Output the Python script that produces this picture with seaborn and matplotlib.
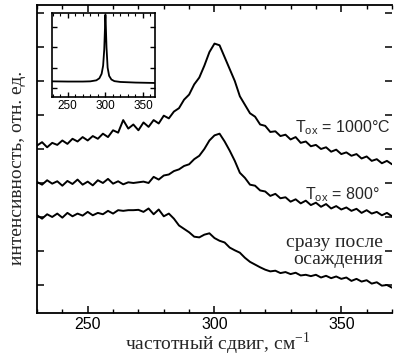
import numpy as np
import matplotlib
matplotlib.use("Agg")
import matplotlib.pyplot as plt
import seaborn as sns
from matplotlib.ticker import MultipleLocator

# wavenumber grid of the spectra, cm^-1
shift = np.arange(230, 372, 2)

# Raman spectra (offset, arb. units)
i_1000 = [5.10, 5.20, 5.05, 5.18, 5.12, 5.25, 5.15, 5.30, 5.22, 5.35,
          5.25, 5.38, 5.30, 5.45, 5.35, 5.55, 5.48, 5.85, 5.60, 5.72,
          5.55, 5.78, 5.65, 5.85, 5.75, 5.98, 5.90, 6.10, 6.20, 6.45,
          6.60, 6.90, 7.10, 7.45, 7.85, 8.10, 8.05, 7.70, 7.35, 7.00,
          6.55, 6.30, 6.05, 5.95, 5.72, 5.68, 5.50, 5.52, 5.38, 5.42,
          5.28, 5.35, 5.18, 5.22, 5.08, 5.12, 5.00, 5.05, 4.92, 4.98,
          4.85, 4.90, 4.80, 4.85, 4.72, 4.78, 4.65, 4.70, 4.58, 4.65,
          4.55]
i_800 = [4.03, 3.95, 4.08, 3.98, 4.05, 3.92, 4.06, 3.97, 4.10, 3.95,
         4.04, 3.93, 4.08, 4.00, 4.12, 3.98, 4.05, 3.96, 4.02, 4.00,
         4.02, 4.04, 4.00, 4.18, 4.10, 4.22, 4.25, 4.35, 4.40, 4.50,
         4.55, 4.70, 4.80, 5.00, 5.25, 5.40, 5.45, 5.22, 4.95, 4.65,
         4.30, 4.15, 3.95, 3.92, 3.78, 3.75, 3.62, 3.68, 3.55, 3.58,
         3.45, 3.52, 3.40, 3.48, 3.35, 3.42, 3.30, 3.38, 3.25, 3.32,
         3.22, 3.28, 3.18, 3.24, 3.12, 3.20, 3.10, 3.15, 3.05, 3.12,
         3.02]
i_dep = [3.05, 2.95, 3.08, 3.00, 3.10, 2.98, 3.12, 3.02, 3.10, 3.04,
         3.15, 3.05, 3.12, 3.08, 3.18, 3.10, 3.20, 3.18, 3.20, 3.20,
         3.21, 3.15, 3.25, 3.08, 3.22, 3.02, 3.10, 2.95, 2.75, 2.65,
         2.55, 2.42, 2.40, 2.48, 2.52, 2.38, 2.30, 2.25, 2.10, 2.02,
         1.95, 1.80, 1.68, 1.60, 1.52, 1.45, 1.40, 1.42, 1.35, 1.38,
         1.32, 1.36, 1.28, 1.30, 1.26, 1.30, 1.22, 1.27, 1.20, 1.25,
         1.18, 1.22, 1.12, 1.18, 1.10, 1.14, 1.04, 1.08, 0.98, 1.00,
         0.92]

# inset: crystalline reference spectrum
inset_shift = [229, 250, 270, 280, 288, 292, 295, 297, 298.5, 299.5, 300,
               300.5, 301.5, 303, 305, 308, 312, 320, 340, 366]
inset_int = [0.33, 0.32, 0.32, 0.33, 0.38, 0.48, 0.70, 1.10, 1.90, 3.00, 3.60,
             3.20, 2.00, 1.00, 0.60, 0.42, 0.34, 0.30, 0.27, 0.25]

sns.set_theme(style="ticks")
plt.rcParams["font.family"] = ["Liberation Sans", "DejaVu Sans"]
plt.rcParams["axes.linewidth"] = 1.3

fig = plt.figure(figsize=(3.96, 3.56), dpi=100)
ax = fig.add_axes([0.0934, 0.1208, 0.8965, 0.8652])

for vals in (i_1000, i_800, i_dep):
    sns.lineplot(x=shift, y=vals, ax=ax, color="black", lw=1.4,
                 estimator=None, sort=False)

ax.set_xlim(230, 370)
ax.set_ylim(0.176, 9.235)
ax.xaxis.set_major_locator(MultipleLocator(50))
ax.xaxis.set_minor_locator(MultipleLocator(10))
ax.set_yticks(range(1, 10))
ax.set_yticklabels([])
ax.tick_params(which="both", direction="in", top=True, right=True,
               colors="black")
ax.tick_params(which="major", length=5, width=1.1, labelsize=11.5, pad=3)
ax.tick_params(which="minor", length=3, width=1.0)
ax.spines["right"].set_visible(False)
for s in ("left", "bottom", "top"):
    ax.spines[s].set_color("black")

ax.set_xlabel(r"частотный сдвиг, см$^{\mathregular{-1}}$",
              family="Liberation Serif", fontsize=14)
ax.set_ylabel("интенсивность, отн. ед.", family="Liberation Serif",
              fontsize=14)
ax.xaxis.set_label_coords(0.51, -0.058)
ax.yaxis.set_label_coords(-0.03, 0.47)

ax.text(369.5, 5.62, r"$\mathregular{T_{ox}}$ = 1000°C", ha="right",
        va="center", fontsize=11.5)
ax.text(365, 3.65, r"$\mathregular{T_{ox}}$ = 800°", ha="right",
        va="center", fontsize=11.5)
ax.text(366.5, 2.0, "сразу после\nосаждения", ha="right", va="center",
        multialignment="right", family="Liberation Serif", fontsize=14,
        linespacing=1.0)

# inset
axi = fig.add_axes([0.1313, 0.7275, 0.2601, 0.236])
sns.lineplot(x=inset_shift, y=inset_int, ax=axi, color="black", lw=1.3,
             estimator=None, sort=False)
axi.set_xlim(229, 366)
axi.set_ylim(-0.44, 3.69)
axi.xaxis.set_major_locator(MultipleLocator(50))
axi.xaxis.set_minor_locator(MultipleLocator(10))
axi.set_yticks([0, 1, 2, 3])
axi.set_yticklabels([])
axi.tick_params(which="both", direction="in", top=True, right=True,
                colors="black")
axi.tick_params(which="major", length=3.5, width=1.0, labelsize=8.5, pad=2)
axi.tick_params(which="minor", length=2, width=0.8)
for s in axi.spines.values():
    s.set_color("black")
    s.set_linewidth(1.2)

fig.savefig("out.png", dpi=100)
